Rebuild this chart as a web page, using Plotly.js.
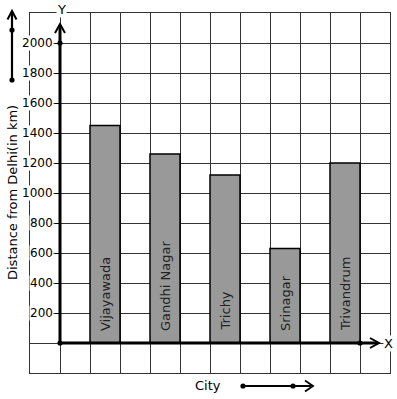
<!DOCTYPE html>
<html>
<head>
<meta charset="utf-8">
<script src="https://cdn.plot.ly/plotly-3.0.1.min.js"></script>
<style>html,body{margin:0;padding:0;background:#fff;}#chart{width:397px;height:399px;}</style>
</head>
<body>
<div id="chart"></div>
<script>
const cities = ['Vijayawada', 'Gandhi Nagar', 'Trichy', 'Srinagar', 'Trivandrum'];
const distances = [1450, 1260, 1120, 630, 1200];
const yTickVals = [200, 400, 600, 800, 1000, 1200, 1400, 1600, 1800, 2000];
const yTickText = ['200', '400', '600', '800', '1000', '1200', '1400', '1600', '1800', '2000'];
const yTitle = 'Distance from Delhi(in km)';
const xTitle = 'City';

const FONT = 'DejaVu Sans, Verdana, sans-serif';
const xPos = cities.map((c, i) => 1.5 + 2 * i);

// pixel -> paper helpers (plot area is 30..390 x 13..373)
const px = x => (x - 30) / 360;
const py = y => (373 - y) / 360;

const traces = [
  {
    type: 'bar',
    x: xPos,
    y: distances,
    width: 1,
    marker: {color: '#999999', line: {color: '#000', width: 1.5}},
    hoverinfo: 'skip'
  },
  {
    type: 'scatter', x: [0], y: [0], yaxis: 'y2', mode: 'markers',
    marker: {opacity: 0}, hoverinfo: 'skip'
  }
];

const annotations = [];
yTickVals.forEach((v, i) => {
  annotations.push({
    xref: 'paper', yref: 'y', x: px(60), y: v, xanchor: 'right', yanchor: 'middle',
    xshift: -6, text: yTickText[i], showarrow: false, bgcolor: '#fff', borderpad: 0,
    font: {family: FONT, size: 12, color: '#000'}
  });
});
cities.forEach((c, i) => {
  annotations.push({
    xref: 'x', yref: 'y', x: xPos[i], y: 0, xanchor: 'center', yanchor: 'bottom',
    yshift: 10, textangle: -90, text: c, showarrow: false,
    font: {family: FONT, size: 13, color: '#222'}
  });
});
function label(x, y, text, extra) {
  return Object.assign({
    xref: 'paper', yref: 'paper', x: px(x), y: py(y), xanchor: 'center', yanchor: 'middle',
    text: text, showarrow: false, font: {family: FONT, size: 13, color: '#000'}
  }, extra || {});
}
annotations.push(label(12, 193, yTitle, {textangle: -90}));
annotations.push(label(208, 385, xTitle));
annotations.push(label(388, 343, 'X', {bgcolor: '#fff', borderpad: 0}));
annotations.push(label(61, 9, 'Y', {bgcolor: '#fff', borderpad: 0}));

function line(x0, y0, x1, y1, w) {
  return {type: 'line', xref: 'paper', yref: 'paper', x0: px(x0), y0: py(y0), x1: px(x1), y1: py(y1),
          line: {color: '#000', width: w}, layer: 'above'};
}
function chevron(pts, w) {
  const d = pts.map((p, i) => (i ? 'L' : 'M') + px(p[0]) + ',' + py(p[1])).join(' ');
  return {type: 'path', xref: 'paper', yref: 'paper', path: d, line: {color: '#000', width: w}, layer: 'above'};
}
function dot(cx, cy) {
  const r = 2.6;
  return {type: 'circle', xref: 'paper', yref: 'paper', x0: px(cx - r), x1: px(cx + r), y0: py(cy + r), y1: py(cy - r),
          fillcolor: '#000', line: {color: '#000', width: 0}, layer: 'above'};
}

const shapes = [
  line(60, 343, 60, 25, 3),
  chevron([[55, 33], [60, 24], [65, 33]], 2),
  line(60, 343, 378, 343, 3),
  chevron([[370, 338], [379, 343], [370, 348]], 2),
  dot(60, 343), dot(60, 43), dot(360, 343),
  line(12, 80, 12, 12, 2.2),
  chevron([[7.5, 19.5], [12, 11], [16.5, 19.5]], 2),
  dot(12, 30), dot(12, 80),
  line(243, 386, 311, 386, 2.2),
  chevron([[305, 380.5], [313, 386], [305, 391.5]], 1.8),
  dot(243, 386), dot(293, 386)
];

const gridAxis = {
  showgrid: true, gridcolor: '#333', gridwidth: 1, showticklabels: false, ticks: '',
  zeroline: false, showline: true, mirror: true, linecolor: '#333', linewidth: 1, fixedrange: true
};

const layout = {
  width: 397, height: 399,
  margin: {l: 30, r: 7, t: 13, b: 26, pad: 0},
  paper_bgcolor: '#fff', plot_bgcolor: '#fff',
  showlegend: false,
  xaxis: Object.assign({}, gridAxis, {range: [-1, 11], tickmode: 'linear', tick0: -1, dtick: 1}),
  yaxis: Object.assign({}, gridAxis, {range: [-200, 2200], tickmode: 'linear', tick0: -200, dtick: 200}),
  yaxis2: {
    overlaying: 'y', anchor: 'free', position: px(60), side: 'left', range: [-200, 2200],
    tickmode: 'array', tickvals: yTickVals, ticks: 'outside', ticklen: 5, tickwidth: 1, tickcolor: '#000',
    showticklabels: false, showgrid: false, zeroline: false, showline: false, fixedrange: true
  },
  annotations: annotations,
  shapes: shapes
};

Plotly.newPlot('chart', traces, layout, {displayModeBar: false, staticPlot: true});
</script>
</body>
</html>
